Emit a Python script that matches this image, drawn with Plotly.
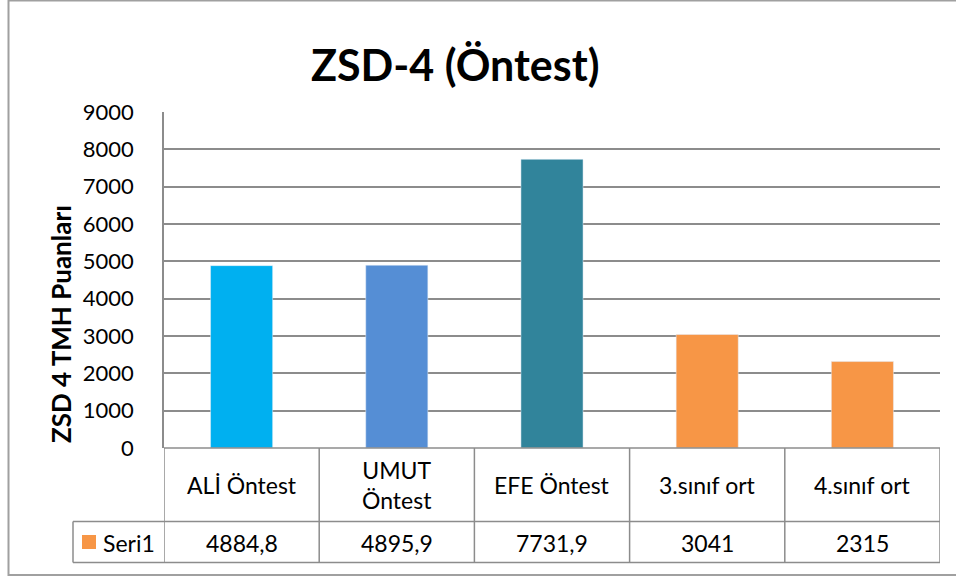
import plotly.graph_objects as go

categories = ["ALİ Öntest", "UMUT Öntest", "EFE Öntest", "3.sınıf ort", "4.sınıf ort"]
header_labels = ["ALİ Öntest", "UMUT<br>Öntest", "EFE Öntest", "3.sınıf ort", "4.sınıf ort"]
values = [4884.8, 4895.9, 7731.9, 3041, 2315]
value_labels = ["4884,8", "4895,9", "7731,9", "3041", "2315"]
bar_colors = ["#00B0F0", "#558ED5", "#31849B", "#F79646", "#F79646"]
series_name = "Seri1"
title_text = "ZSD-4 (Öntest)"
y_title = "ZSD 4 TMH Puanları"
y_ticks = [0, 1000, 2000, 3000, 4000, 5000, 6000, 7000, 8000, 9000]

W, H = 956, 576
L, R, T, B = 164, 16, 112, 128
pw, ph = W - L - R, H - T - B
FONT = "Lato"
GRID = "#8C8C8C"

def px_x(x):
    return (x - L) / pw

def px_y(y):
    return (H - B - y) / ph

fig = go.Figure()
fig.add_trace(go.Bar(
    x=list(range(len(categories))), y=values, marker_color=bar_colors,
    width=0.4, name=series_name, showlegend=False,
    hovertext=categories,
))

shapes = []
line = dict(color=GRID, width=1.5)
# table horizontal lines
for yy in [448, 521.5, 562.5]:
    x0 = 164 if yy == 448 else 73
    shapes.append(dict(type="line", xref="paper", yref="paper",
                       x0=px_x(x0), x1=px_x(940), y0=px_y(yy), y1=px_y(yy), line=line))
# table vertical lines at category boundaries
for i in range(len(categories) + 1):
    shapes.append(dict(type="line", xref="x", yref="paper",
                       x0=i - 0.5, x1=i - 0.5, y0=px_y(448), y1=px_y(562.5), line=line))
shapes.append(dict(type="line", xref="paper", yref="paper",
                   x0=px_x(73), x1=px_x(73), y0=px_y(521.5), y1=px_y(562.5), line=line))
# legend key
shapes.append(dict(type="rect", xref="paper", yref="paper",
                   x0=px_x(82), x1=px_x(96), y0=px_y(549), y1=px_y(535),
                   fillcolor="#F79646", line=dict(width=0)))
# outer chart border
shapes.append(dict(type="rect", xref="paper", yref="paper",
                   x0=px_x(8.5), x1=px_x(960), y0=px_y(575), y1=px_y(0.5),
                   line=dict(color="#A0A0A0", width=2), fillcolor="rgba(0,0,0,0)"))

annotations = []
for i, (h, v) in enumerate(zip(header_labels, value_labels)):
    annotations.append(dict(x=i, xref="x", y=px_y(485), yref="paper", text=h,
                            showarrow=False, font=dict(family=FONT, size=23, color="#000"),
                            xanchor="center", yanchor="middle"))
    annotations.append(dict(x=i, xref="x", y=px_y(543), yref="paper", text=v,
                            showarrow=False, font=dict(family=FONT, size=23, color="#000"),
                            xanchor="center", yanchor="middle"))
annotations.append(dict(x=px_x(101), xref="paper", y=px_y(543), yref="paper", text=series_name,
                        showarrow=False, font=dict(family=FONT, size=23, color="#000"),
                        xanchor="left", yanchor="middle"))
annotations.append(dict(x=px_x(61), xref="paper", y=px_y(324), yref="paper", text="<b>" + y_title + "</b>",
                        showarrow=False, textangle=-90, font=dict(family=FONT, size=26, color="#000"),
                        xanchor="center", yanchor="middle"))
annotations.append(dict(x=px_x(455), xref="paper", y=px_y(64), yref="paper", text="<b>" + title_text + "</b>",
                        showarrow=False, font=dict(family=FONT, size=43, color="#000"),
                        xanchor="center", yanchor="middle"))

fig.update_layout(
    width=W, height=H, margin=dict(l=L, r=R, t=T, b=B),
    paper_bgcolor="white", plot_bgcolor="white",
    shapes=shapes, annotations=annotations, showlegend=False,
    xaxis=dict(range=[-0.5, 4.5], showticklabels=False, showgrid=False, zeroline=False,
               showline=False, ticks=""),
    yaxis=dict(range=[0, 9000], tickvals=y_ticks, showgrid=True, gridcolor=GRID, gridwidth=1.5,
               zeroline=False, showline=True, linecolor=GRID, linewidth=1.5,
               tickfont=dict(family=FONT, size=22, color="#000"), ticklabelstandoff=24),
)

fig.write_html("out.html", config={"displayModeBar": False},
               post_script="document.body.style.margin='0';document.body.style.overflow='hidden';")
